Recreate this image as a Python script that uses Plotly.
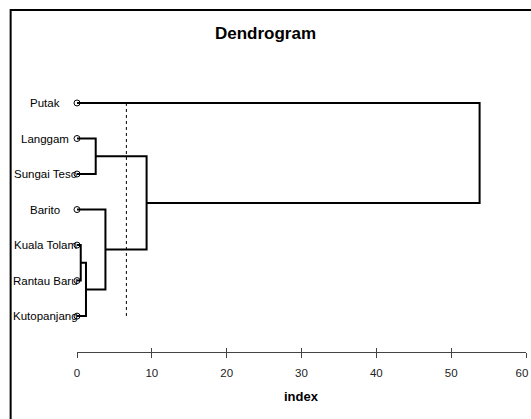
import plotly.graph_objects as go

# ---- data ----
leaf_labels = ["Putak", "Langgam", "Sungai Teso", "Barito", "Kuala Tolam", "Rantau Baru", "Kutopanjang"]
# merges: negative = leaf index (1-based, as in R hclust), positive = earlier merge step
merge_a = [-5, 1, -2, -4, 3, -1]
merge_b = [-6, -7, -3, 2, 4, 5]
merge_height = [0.5, 1.2, 2.5, 3.8, 9.3, 53.8]
cut_height = 6.6
x_ticks = [0, 10, 20, 30, 40, 50, 60]
x_tick_labels = ["0", "10", "20", "30", "40", "50", "60"]

# ---- build dendrogram segments ----
leaf_pos = {i + 1: i for i in range(len(leaf_labels))}
node_pos = {}
node_h = {}

def pos(ref):
    if ref < 0:
        return leaf_pos[-ref], 0.0
    return node_pos[ref], node_h[ref]

seg_x, seg_y = [], []
for k, (a, b, h) in enumerate(zip(merge_a, merge_b, merge_height), start=1):
    ya, ha = pos(a)
    yb, hb = pos(b)
    seg_x += [ha, h, h, hb, None]
    seg_y += [ya, ya, yb, yb, None]
    node_pos[k] = (ya + yb) / 2
    node_h[k] = h

fig = go.Figure()
fig.add_trace(go.Scatter(x=seg_x, y=seg_y, mode="lines",
                         line=dict(color="black", width=2), hoverinfo="skip", showlegend=False))
fig.add_trace(go.Scatter(x=[cut_height, cut_height], y=[0, len(leaf_labels) - 1], mode="lines",
                         line=dict(color="black", width=1, dash="dot"), showlegend=False))
fig.add_trace(go.Scatter(x=[0] * len(leaf_labels), y=list(range(len(leaf_labels))), mode="markers",
                         marker=dict(symbol="circle-open", size=6, color="black", line=dict(width=1)),
                         showlegend=False, cliponaxis=False))

for i, lab in enumerate(leaf_labels):
    fig.add_annotation(x=0, y=i, xref="x", yref="y", text=lab, showarrow=False,
                       xanchor="center", yanchor="middle", xshift=-32,
                       font=dict(family="Liberation Sans, Arial", size=11.5, color="black"))

fig.add_annotation(x=0.5, y=-0.154, xref="paper", yref="paper", text="<b>index</b>", showarrow=False,
                   xanchor="center", yanchor="middle",
                   font=dict(family="Liberation Sans, Arial", size=13, color="black"))

fig.add_shape(type="rect", xref="paper", yref="paper", x0=-0.1478, x1=1.3, y0=-0.6, y1=1.171,
              line=dict(color="black", width=2), fillcolor="rgba(0,0,0,0)")

# last tick label is drawn on its own overlay axis, nudged to stay inside the page (as in the reference)
main_text = x_tick_labels[:-1] + [""]

axis_common = dict(range=[0, 60], showgrid=False, zeroline=False, automargin=False,
                   showline=True, linecolor="#444", linewidth=1, tickcolor="#444", tickwidth=1)
tickfont = dict(family="Liberation Sans, Arial", size=11.5, color="#222")
fig.update_layout(
    width=531, height=419,
    margin=dict(l=77, r=5, t=60, b=67),
    paper_bgcolor="white", plot_bgcolor="white",
    font=dict(family="Liberation Sans, Arial", size=11, color="black"),
    title=dict(text="<b>Dendrogram</b>", x=0.5, xref="container", xanchor="center",
               y=1 - 33.5 / 419, yref="container", yanchor="middle",
               font=dict(family="Liberation Sans, Arial", size=17, color="black")),
    xaxis=dict(**axis_common, tickvals=x_ticks, ticktext=main_text, ticks="outside", ticklen=5,
               ticklabelstandoff=5, ticklabeloverflow="allow", tickfont=tickfont),
    xaxis2=dict(**axis_common, tickvals=x_ticks, ticks="inside", ticklen=4, showticklabels=False,
                overlaying="x", side="bottom", matches="x"),
    xaxis3=dict(**axis_common, tickvals=x_ticks[-1:], ticktext=x_tick_labels[-1:], ticks="outside",
                ticklen=5, ticklabelstandoff=5, ticklabelshift=-4, ticklabeloverflow="allow",
                tickfont=tickfont, overlaying="x", side="bottom", matches="x"),
    yaxis=dict(range=[7.01, -1.21], visible=False),
)
fig.add_trace(go.Scatter(x=[None], y=[None], xaxis="x2", showlegend=False))
fig.add_trace(go.Scatter(x=[None], y=[None], xaxis="x3", showlegend=False))
fig.write_html("out.html")
